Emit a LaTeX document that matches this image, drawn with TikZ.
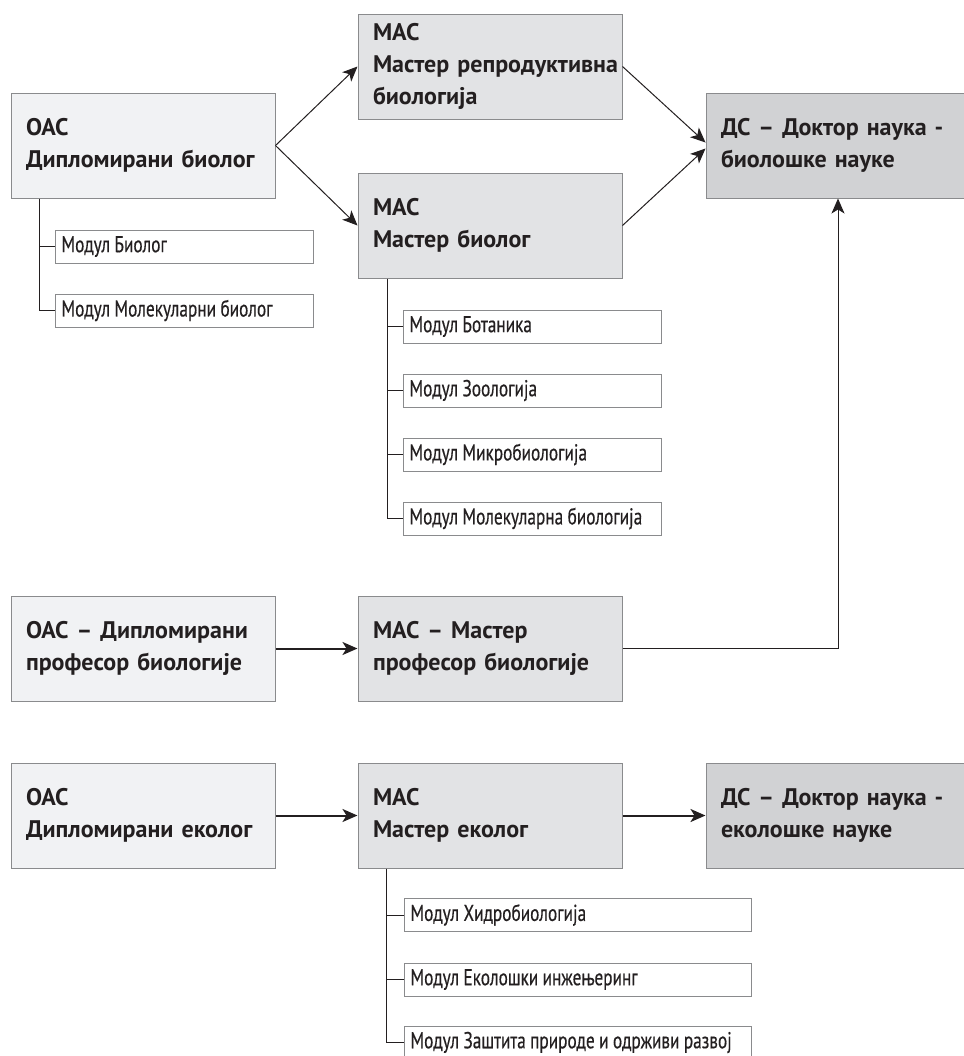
\documentclass[tikz,border=0pt]{standalone}
\usepackage{fontspec}
\setmainfont{PT Sans}
\newfontfamily\narrowfont{PT Sans}[FakeStretch=0.75,FakeBold=0.4]
\newcommand\modfont{\narrowfont\fontsize{11.5}{13}\selectfont}
\newcommand\modspace{\spaceskip 2.2pt plus 1pt\relax}
\usetikzlibrary{arrows.meta}

\definecolor{ink}{HTML}{231F20}
\definecolor{boxline}{HTML}{8A8B8D}
\definecolor{oacfill}{HTML}{F1F2F4}
\definecolor{macfill}{HTML}{E2E3E5}
\definecolor{dsfill}{HTML}{D1D2D4}

\tikzset{
  box/.style={draw=boxline, line width=0.5pt, text=ink, text width=117pt,
    inner xsep=7.5pt, inner ysep=0pt, minimum height=52.5pt, align=left,
    font=\bfseries\fontsize{12}{16}\selectfont},
  oac/.style={box, fill=oacfill},
  mac/.style={box, fill=macfill},
  ds/.style={box, fill=dsfill, text width=114pt},
  modul/.style={draw=boxline, line width=0.5pt, fill=white, text=ink, anchor=west,
    text width=123pt, inner xsep=3pt, inner ysep=0pt, minimum height=16.5pt,
    align=left, font=\modfont, execute at begin node=\modspace},
  modwide/.style={modul, text width=167.5pt},
  link/.style={draw=ink, line width=0.5pt},
  arr/.style={link, -{Stealth[length=7.5pt,width=6.5pt,inset=2pt]}},
  thickarr/.style={arr, line width=1pt}
}

\begin{document}
\begin{tikzpicture}[x=0.5pt,y=-0.5pt]
    \useasboundingbox (0,0) rectangle (964,1056);

    % biologija
    \node[oac] (oacB) at (143,145.5) {ОАС\\Дипломирани биолог};
    \node[mac] (macR) at (490,66.5) {МАС\\Мастер~репродуктивна\\биологија};
    \node[mac] (macB) at (490,225.5) {МАС\\Мастер биолог};
    \node[ds] (dsB) at (835,145.5) {ДС – Доктор наука -\\биолошке науке};

    \draw[arr] (oacB.east) -- (macR.west);
    \draw[arr] (oacB.east) -- (macB.west);
    \draw[arr] (macR.east) -- ([yshift=1.5pt]dsB.west);
    \draw[arr] (macB.east) -- ([yshift=-1.5pt]dsB.west);

    \node[modul] (mBio) at (55,246.5) {Модул Биолог};
    \node[modul] (mMol) at (55,310.5) {Модул Молекуларни биолог};
    \coordinate (treeA) at ([xshift=14.5pt]oacB.south west);
    \draw[link] (treeA) |- (mMol.west);
    \draw[link] (mBio.west) -- (mBio.west -| treeA);

    \node[modul] (mBot) at (403,326.5) {Модул Ботаника};
    \node[modul] (mZoo) at (403,390.5) {Модул Зоологија};
    \node[modul] (mMik) at (403,454.5) {Модул Микробиологија};
    \node[modul] (mMb) at (403,518.5) {Модул Молекуларна биологија};
    \coordinate (treeB) at ([xshift=15pt]macB.south west);
    \draw[link] (treeB) |- (mMb.west);
    \foreach \m in {mBot,mZoo,mMik}
        \draw[link] (\m.west) -- (\m.west -| treeB);

    % profesor biologije
    \node[oac] (oacP) at (143,648.5) {ОАС – Дипломирани\\професор биологије};
    \node[mac] (macP) at (490,648.5) {МАС – Мастер\\професор биологије};
    \draw[thickarr] (oacP.east) -- (macP.west);
    \draw[arr] (macP.east) -| ([xshift=1.5pt]dsB.south);

    % ekologija
    \node[oac] (oacE) at (143,815.5) {ОАС\\Дипломирани еколог};
    \node[mac] (macE) at (490,815.5) {МАС\\Мастер еколог};
    \node[ds] (dsE) at (835,815.5) {ДС – Доктор наука -\\еколошке науке};
    \draw[thickarr] (oacE.east) -- (macE.west);
    \draw[thickarr] (macE.east) -- (dsE.west);

    \node[modwide] (mHid) at (404,915) {Модул Хидробиологија};
    \node[modwide] (mInz) at (404,979.5) {Модул Еколошки инжењеринг};
    \node[modwide] (mZas) at (404,1042.5) {Модул Заштита природе и одрживи развој};
    \coordinate (treeC) at ([xshift=14.5pt]macE.south west);
    \draw[link] (treeC) |- (mZas.west);
    \foreach \m in {mHid,mInz}
        \draw[link] (\m.west) -- (\m.west -| treeC);
\end{tikzpicture}
\end{document}
